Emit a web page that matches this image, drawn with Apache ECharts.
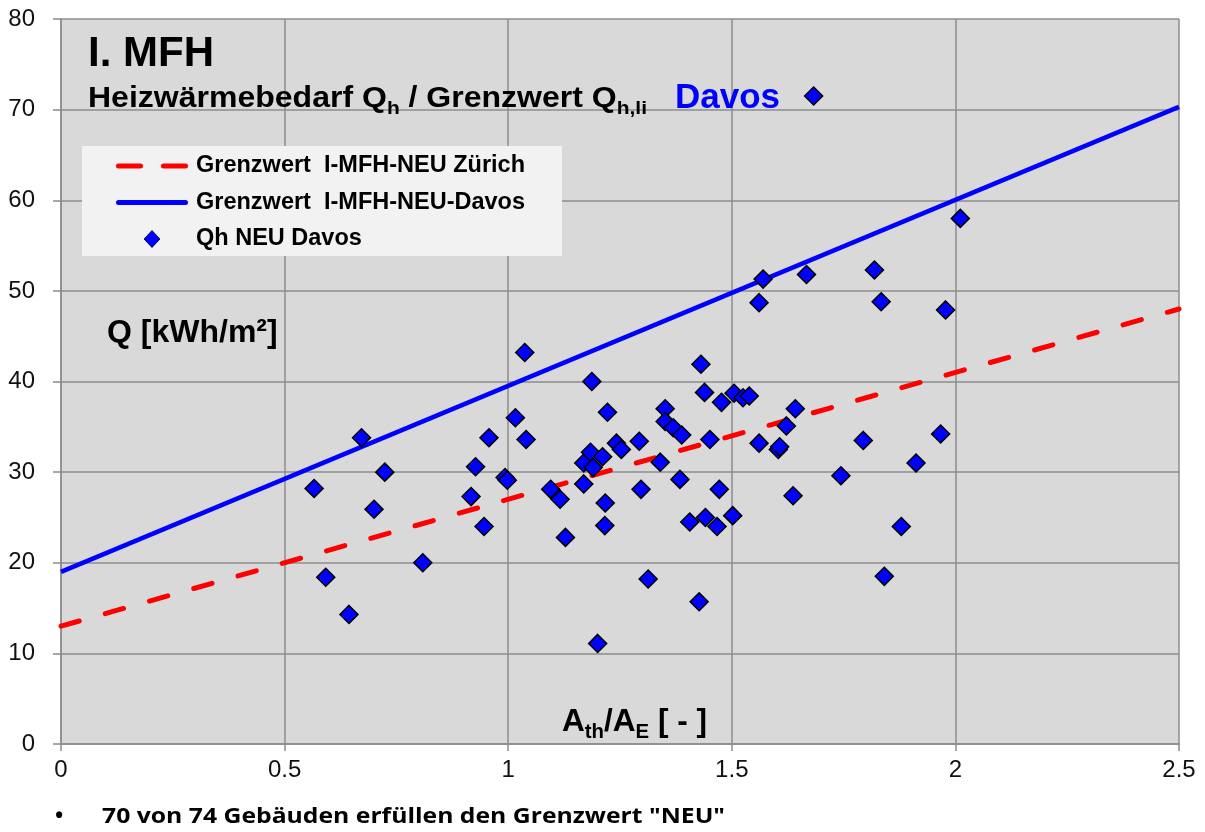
<!DOCTYPE html>
<html><head><meta charset="utf-8">
<script src="https://cdn.jsdelivr.net/npm/echarts@6/dist/echarts.min.js"></script>
<style>html,body{margin:0;padding:0;background:#fff}#c{width:1205px;height:832px}</style>
</head><body><div id="c"></div>
<script>
// A_th / A_E ratio of each building
const ratioAthAE = [
  0.566, 0.592, 0.644, 0.672, 0.700, 0.724, 0.809, 0.917, 0.927, 0.946,
  0.957, 0.993, 0.998, 1.016, 1.037, 1.040, 1.095, 1.116, 1.128, 1.169,
  1.169, 1.184, 1.187, 1.190, 1.200, 1.211, 1.216, 1.217, 1.222, 1.242,
  1.253, 1.293, 1.297, 1.313, 1.340, 1.351, 1.351, 1.369, 1.384, 1.388,
  1.406, 1.427, 1.431, 1.439, 1.441, 1.451, 1.467, 1.472, 1.477, 1.502,
  1.505, 1.525, 1.539, 1.561, 1.561, 1.570, 1.604, 1.607, 1.622, 1.637,
  1.642, 1.667, 1.683, 1.744, 1.794, 1.819, 1.834, 1.841, 1.879, 1.912,
  1.967, 1.978, 2.011
];
// Qh NEU Davos [kWh/m2]
const qhDavos = [
  28.2, 18.4, 14.3, 33.8, 25.9, 30.0, 20.0, 27.3, 30.6, 24.0,
  33.8, 29.4, 29.1, 36.0, 43.2, 33.6, 28.1, 27.0, 22.8, 28.7,
  31.0, 32.2, 40.0, 30.5, 11.1, 31.7, 24.1, 26.6, 36.6, 33.2,
  32.5, 33.4, 28.1, 18.2, 31.1, 37.0, 35.6, 34.9, 29.2, 34.1,
  24.5, 15.7, 41.9, 38.8, 25.0, 33.6, 24.0, 28.1, 37.7, 25.2,
  38.7, 38.2, 38.4, 33.2, 48.7, 51.3, 32.5, 32.8, 35.1, 27.4,
  37.0, 51.8, 71.5, 29.6, 33.5, 52.3, 48.8, 18.5, 24.0, 31.0,
  34.2, 47.9, 58.0
];
// Limit lines (Grenzwert)
const limitX = [0, 2.5];
const limitZurich = [13, 48];
const limitDavos = [19, 70.3];

const seriesNames = ['Grenzwert  I-MFH-NEU Zürich', 'Grenzwert  I-MFH-NEU-Davos', 'Qh NEU Davos'];
const noteText = '70 von 74 Gebäuden erfüllen den Grenzwert "NEU"';

const ARIAL = '"Liberation Sans", Arial, sans-serif';
const NOTEFONT = '"Open Sans", Lato, sans-serif';

// text measuring, used only to fit text block widths
const mctx = document.createElement('canvas').getContext('2d');
function textWidth(parts) {
  let w = 0;
  for (const p of parts) { mctx.font = p[1]; w += mctx.measureText(p[0]).width; }
  return w;
}
const subMain = 29, subSub = 19;
const subScale = 559 / textWidth([
  ['Heizwärmebedarf Q', 'bold ' + subMain + 'px ' + ARIAL], ['h', 'bold ' + subSub + 'px ' + ARIAL],
  [' / Grenzwert Q', 'bold ' + subMain + 'px ' + ARIAL], ['h,li', 'bold ' + subSub + 'px ' + ARIAL]
]);
const xnMain = 31, xnSub = 20;
const xnScale = 145 / textWidth([
  ['A', 'bold ' + xnMain + 'px ' + ARIAL], ['th', 'bold ' + xnSub + 'px ' + ARIAL],
  ['/A', 'bold ' + xnMain + 'px ' + ARIAL], ['E', 'bold ' + xnSub + 'px ' + ARIAL],
  [' [ - ]', 'bold ' + xnMain + 'px ' + ARIAL]
]);
const noteScale = 623 / textWidth([[noteText, 'bold 22px ' + NOTEFONT]]);

const chart = echarts.init(document.getElementById('c'), null, {renderer: 'canvas'});

const pill = (x0, x1) => `M${x0 + 2.5},0H${x1 - 2.5}A2.5,2.5,0,0,1,${x1 - 2.5},5H${x0 + 2.5}A2.5,2.5,0,0,1,${x0 + 2.5},0Z`;

const option = {
  animation: false,
  backgroundColor: '#ffffff',
  grid: {left: 61, right: 26, top: 19, bottom: 88, show: true, backgroundColor: '#d9d9d9', borderWidth: 0},
  xAxis: {
    type: 'value', min: 0, max: 2.5, interval: 0.5,
    axisLine: {show: true, onZero: false, lineStyle: {color: '#8c8c8c', width: 1.5}},
    axisTick: {show: true, length: 7, lineStyle: {color: '#8c8c8c', width: 1.5}},
    axisLabel: {fontFamily: ARIAL, fontSize: 24, color: '#111', margin: 14},
    splitLine: {show: true, lineStyle: {color: '#8c8c8c', width: 1.5}}
  },
  yAxis: {
    type: 'value', min: 0, max: 80, interval: 10,
    axisLine: {show: true, onZero: false, lineStyle: {color: '#8c8c8c', width: 1.5}},
    axisTick: {show: true, length: 8, lineStyle: {color: '#8c8c8c', width: 1.5}},
    axisLabel: {fontFamily: ARIAL, fontSize: 24, color: '#111', margin: 26},
    splitLine: {show: true, lineStyle: {color: '#8c8c8c', width: 1.5}}
  },
  legend: {
    left: 82, top: 146, orient: 'vertical',
    backgroundColor: '#f2f2f2',
    padding: [8, 37, 5, 34],
    itemWidth: 72, itemHeight: 17, itemGap: 12.5,
    symbolKeepAspect: true,
    textStyle: {fontFamily: ARIAL, fontWeight: 'bold', fontSize: 23.5, color: '#000', lineHeight: 22, padding: [0, 0, 0, 3]},
    data: [
      {name: seriesNames[0], icon: 'path://' + pill(0, 27) + pill(45, 72), itemStyle: {color: '#ff0000', borderWidth: 0}},
      {name: seriesNames[1], icon: 'path://' + pill(0, 72), itemStyle: {color: '#0000ff', borderWidth: 0}},
      {name: seriesNames[2], icon: 'path://M7.5,0L15,8L7.5,16L0,8Z', itemStyle: {color: '#0000ff', borderWidth: 0.8, borderColor: '#000'}}
    ]
  },
  series: [
    {
      name: seriesNames[0], type: 'line', symbol: 'none', silent: true, z: 2,
      data: limitX.map((x, i) => [x, limitZurich[i]]),
      itemStyle: {color: '#ff0000'},
      lineStyle: {color: '#ff0000', width: 5, type: [19, 27], cap: 'round'}
    },
    {
      name: seriesNames[1], type: 'line', symbol: 'none', silent: true, z: 3,
      data: limitX.map((x, i) => [x, limitDavos[i]]),
      itemStyle: {color: '#0000ff'},
      lineStyle: {color: '#0000ff', width: 4.5}
    },
    {
      name: seriesNames[2], type: 'scatter', symbol: 'diamond', symbolSize: 18, z: 4,
      data: ratioAthAE.map((x, i) => [x, qhDavos[i]]),
      itemStyle: {color: '#0000ff', borderColor: '#000000', borderWidth: 1.5, opacity: 1}
    }
  ],
  graphic: [
    {type: 'text', left: 88, top: 33, z: 10,
      style: {text: 'I. MFH', font: 'bold 42px ' + ARIAL, fill: '#000'}},
    {type: 'text', left: 88, top: 84.5, z: 10, scaleX: subScale,
      style: {
        text: '{m|Heizwärmebedarf Q}{s|h}{m| / Grenzwert Q}{s|h,li}',
        rich: {
          m: {fontFamily: ARIAL, fontWeight: 'bold', fontSize: subMain, verticalAlign: 'top', fill: '#000'},
          s: {fontFamily: ARIAL, fontWeight: 'bold', fontSize: subSub, verticalAlign: 'top', padding: [15, 0, 0, 0], fill: '#000'}
        }
      }},
    {type: 'text', left: 675, top: 81, z: 10,
      style: {text: 'Davos', font: 'bold 35px ' + ARIAL, fill: '#0000ff'}},
    {type: 'text', left: 107, top: 317, z: 10,
      style: {text: 'Q [kWh/m²]', font: 'bold 32px ' + ARIAL, fill: '#000'}},
    {type: 'text', left: 562, top: 707, z: 10, scaleX: xnScale,
      style: {
        text: '{m|A}{s|th}{m|/A}{s|E}{m| [ - ]}',
        rich: {
          m: {fontFamily: ARIAL, fontWeight: 'bold', fontSize: xnMain, verticalAlign: 'top', fill: '#000'},
          s: {fontFamily: ARIAL, fontWeight: 'bold', fontSize: xnSub, verticalAlign: 'top', padding: [15, 0, 0, 0], fill: '#000'}
        }
      }},
    {type: 'text', left: 55, top: 806, z: 10,
      style: {text: '•', font: 'bold 22px ' + NOTEFONT, fill: '#000'}},
    {type: 'text', left: 102, top: 806, z: 10, scaleX: noteScale,
      style: {text: noteText, font: 'bold 22px ' + NOTEFONT, fill: '#000'}}
  ]
};
chart.setOption(option);
</script>
</body></html>
